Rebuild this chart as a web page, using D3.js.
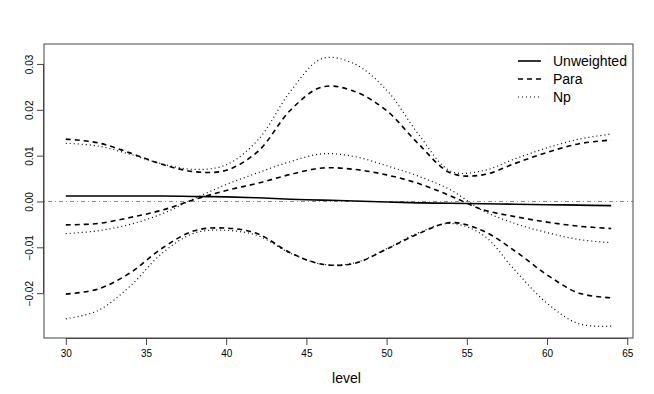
<!DOCTYPE html>
<html><head><meta charset="utf-8">
<script src="https://cdn.jsdelivr.net/npm/d3@7"></script>
<style>body{margin:0;background:#fff}svg{display:block}text{font-family:"Liberation Sans",Arial,Helvetica,sans-serif}</style>
</head><body>
<svg id="c" width="654" height="394"></svg>
<script>
const levels = [30,32,34,36,38,40,42,44,46,48,50,52,54,56,58,60,62,64];
const unweighted = [0.0012,0.0012,0.0012,0.0012,0.0011,0.0010,0.0008,0.0005,0.0003,0.0001,-0.0001,-0.0003,-0.0004,-0.0005,-0.0006,-0.0007,-0.0008,-0.0009];
const paraUpper = [0.0136,0.0128,0.0106,0.0081,0.0065,0.0068,0.0110,0.0199,0.0250,0.0240,0.0198,0.0125,0.0062,0.0058,0.0083,0.0107,0.0126,0.0134];
const paraMid = [-0.0051,-0.0048,-0.0035,-0.0019,0.0004,0.0024,0.0040,0.0059,0.0073,0.0070,0.0058,0.0039,0.0012,-0.0018,-0.0033,-0.0045,-0.0054,-0.0059];
const paraLower = [-0.0202,-0.0191,-0.0156,-0.0102,-0.0064,-0.0058,-0.0071,-0.0112,-0.0137,-0.0135,-0.0104,-0.0070,-0.0046,-0.0064,-0.0108,-0.0160,-0.0200,-0.0210];
const npUpper = [0.0127,0.0121,0.0103,0.0082,0.0070,0.0080,0.0135,0.0240,0.0312,0.0300,0.0243,0.0146,0.0066,0.0067,0.0093,0.0117,0.0136,0.0147];
const npMid = [-0.0070,-0.0064,-0.0050,-0.0027,0.0006,0.0037,0.0063,0.0087,0.0104,0.0098,0.0078,0.0055,0.0025,-0.0020,-0.0048,-0.0068,-0.0083,-0.0090];
const npLower = [-0.0256,-0.0238,-0.0185,-0.0113,-0.0069,-0.0063,-0.0075,-0.0113,-0.0137,-0.0134,-0.0103,-0.0068,-0.0048,-0.0073,-0.0150,-0.0222,-0.0267,-0.0272];
const xTicks = [30,35,40,45,50,55,60,65];
const yTicks = [-0.02,-0.01,0,0.01,0.02,0.03];
const legendLabels = ["Unweighted","Para","Np"];

const svg = d3.select("#c");
const L=44, R=633, T=44, B=338;
const x = d3.scaleLinear().domain([28.64,65.36]).range([L,R]);
const y = d3.scaleLinear().domain([-0.02978,0.03435]).range([B,T]);

// zero reference line
svg.append("line").attr("x1",L).attr("x2",R).attr("y1",y(0)).attr("y2",y(0))
  .attr("stroke","#8a8a8a").attr("stroke-width",1).attr("stroke-dasharray","1,3,4,3");

const styles = {solid:null, dash:"5,4", dot:"1,3"};
const series = [
  [unweighted,"solid"],
  [paraUpper,"dash"],[paraMid,"dash"],[paraLower,"dash"],
  [npUpper,"dot"],[npMid,"dot"],[npLower,"dot"]
];
const line = d3.line().x(d=>x(d[0])).y(d=>y(d[1])).curve(d3.curveCatmullRom.alpha(0.5));
series.forEach(([vals,st])=>{
  svg.append("path").datum(levels.map((l,i)=>[l,vals[i]]))
    .attr("d",line).attr("fill","none").attr("stroke","#000")
    .attr("stroke-width", st==="dot"?1.2:1.6)
    .attr("stroke-dasharray", styles[st]);
});

// box
svg.append("rect").attr("x",L).attr("y",T).attr("width",R-L).attr("height",B-T)
  .attr("fill","none").attr("stroke","#444").attr("stroke-width",1);

// x axis
const xa = svg.append("g").attr("transform",`translate(0,${B})`)
  .call(d3.axisBottom(x).tickValues(xTicks).tickFormat(d3.format("d")).tickSize(7).tickPadding(5));
xa.select(".domain").attr("d",`M${x(30)},0.5H${x(65)}`).attr("stroke","#444");
xa.selectAll(".tick line").attr("stroke","#444");
xa.selectAll("text").attr("font-size",10).attr("fill","#000").style("font-family","Liberation Sans, Arial, sans-serif");

// y axis
const fmtY = d => (d<0?"\u2212":"") + Math.abs(d).toFixed(2);
const ya = svg.append("g").attr("transform",`translate(${L},0)`)
  .call(d3.axisLeft(y).tickValues(yTicks).tickFormat(fmtY).tickSize(7).tickPadding(0));
ya.select(".domain").attr("d",`M-0.5,${y(-0.02)}V${y(0.03)}`).attr("stroke","#444");
ya.selectAll(".tick line").attr("stroke","#444");
ya.selectAll("text").attr("font-size",10).attr("fill","#000")
  .style("font-family","Liberation Sans, Arial, sans-serif")
  .attr("text-anchor","middle").attr("x",-15).attr("dy",0)
  .attr("transform","rotate(-90)")
  .each(function(){ const t=d3.select(this); t.attr("dominant-baseline","central"); });
// rotate labels around their position
ya.selectAll(".tick text").attr("transform",null).attr("x",null)
  .attr("transform","translate(-15,0) rotate(-90)").attr("dominant-baseline","central");

// x label
svg.append("text").attr("x",(x(30)+x(65))/2).attr("y",383).attr("text-anchor","middle")
  .attr("font-size",14).text("level");

// legend
const legStyles=["solid","dash","dot"];
legendLabels.forEach((lab,i)=>{
  const cy = 61 + i*18;
  svg.append("line").attr("x1",518).attr("x2",541).attr("y1",cy).attr("y2",cy)
    .attr("stroke","#000").attr("stroke-width",legStyles[i]==="dot"?1.2:1.6)
    .attr("stroke-dasharray",styles[legStyles[i]]);
  svg.append("text").attr("x",553).attr("y",cy).attr("dominant-baseline","central")
    .attr("font-size",14).text(lab);
});
</script>
</body></html>
